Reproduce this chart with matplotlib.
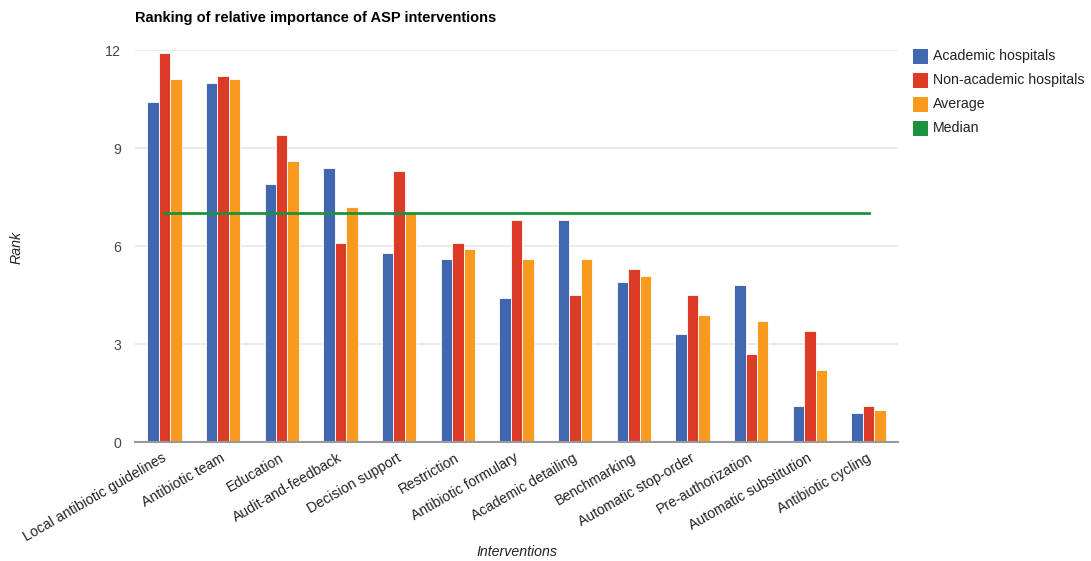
import matplotlib
matplotlib.use("Agg")
import matplotlib.pyplot as plt
from matplotlib.patches import Rectangle
import numpy as np

plt.rcParams['font.family'] = ['Liberation Sans', 'DejaVu Sans']

# Data
interventions = [
    "Local antibiotic guidelines", "Antibiotic team", "Education",
    "Audit-and-feedback", "Decision support", "Restriction",
    "Antibiotic formulary", "Academic detailing", "Benchmarking",
    "Automatic stop-order", "Pre-authorization", "Automatic substitution",
    "Antibiotic cycling",
]
academic = [10.4, 11.0, 7.9, 8.4, 5.8, 5.6, 4.4, 6.8, 4.9, 3.3, 4.8, 1.1, 0.9]
non_academic = [11.9, 11.2, 9.4, 6.1, 8.3, 6.1, 6.8, 4.5, 5.3, 4.5, 2.7, 3.4, 1.1]
average = [11.1, 11.1, 8.6, 7.2, 7.0, 5.9, 5.6, 5.6, 5.1, 3.9, 3.7, 2.2, 1.0]
median = 7.0
y_ticks = [0, 3, 6, 9, 12]

series_names = ["Academic hospitals", "Non-academic hospitals", "Average", "Median"]
colors = ["#4267b1", "#dc3b26", "#f79a1e", "#1e9140"]

W, H = 1091, 561
fig = plt.figure(figsize=(W / 100, H / 100), dpi=100)
left, right, top, bottom = 135, 898, 50, 442.3
ax = fig.add_axes([left / W, 1 - bottom / H, (right - left) / W, (bottom - top) / H])

n = len(interventions)
x = np.arange(n)
bw = 0.195
for i, vals in enumerate([academic, non_academic, average]):
    ax.bar(x + (i - 1) * bw, vals, width=bw, color=colors[i],
           edgecolor="#ffffff", linewidth=0.6, zorder=3, clip_on=False)

ax.plot([x[0], x[-1]], [median, median], color=colors[3], lw=2, zorder=4)

ax.set_xlim(-0.5, n - 0.5)
ax.set_ylim(0, 12)
ax.set_yticks(y_ticks)
ax.set_yticklabels([str(t) for t in y_ticks], fontsize=10.2, color="#444444")
ax.tick_params(axis="y", length=0, pad=10)
ax.yaxis.grid(True, color="#e8e8e8", lw=1.2, zorder=0)
ax.set_axisbelow(True)

ax.set_xticks(x)
ax.set_xticklabels([])
ax.tick_params(axis="x", length=0)
for xi, lab in zip(x, interventions):
    ax.annotate(lab, xy=(xi, 0), xycoords="data", xytext=(-2, -6),
                textcoords="offset points", rotation=30, rotation_mode="anchor",
                ha="right", va="top", fontsize=10.2, color="#222222")

for s in ["top", "right", "left"]:
    ax.spines[s].set_visible(False)
ax.spines["bottom"].set_color("#999999")
ax.spines["bottom"].set_linewidth(1.5)
ax.spines["bottom"].set_zorder(5)

fig.text(135 / W, 1 - 18 / H, "Ranking of relative importance of ASP interventions",
         fontsize=10.5, fontweight="bold", color="#000000", ha="left", va="center")
fig.text(17 / W, 1 - 247 / H, "Rank", rotation=90, style="italic",
         fontsize=10.2, color="#222222", ha="center", va="center")
fig.text(517 / W, 1 - 552 / H, "Interventions", style="italic",
         fontsize=10.2, color="#222222", ha="center", va="center")

# Legend
for k, (name, c) in enumerate(zip(series_names, colors)):
    yc = 56 + 24 * k
    fig.patches.append(Rectangle((913 / W, 1 - (yc + 7.5) / H), 15 / W, 15 / H,
                                 transform=fig.transFigure, facecolor=c,
                                 edgecolor="none"))
    fig.text(933 / W, 1 - yc / H, name, fontsize=10.2, color="#222222",
             ha="left", va="center")

fig.savefig("out.png", dpi=100)
